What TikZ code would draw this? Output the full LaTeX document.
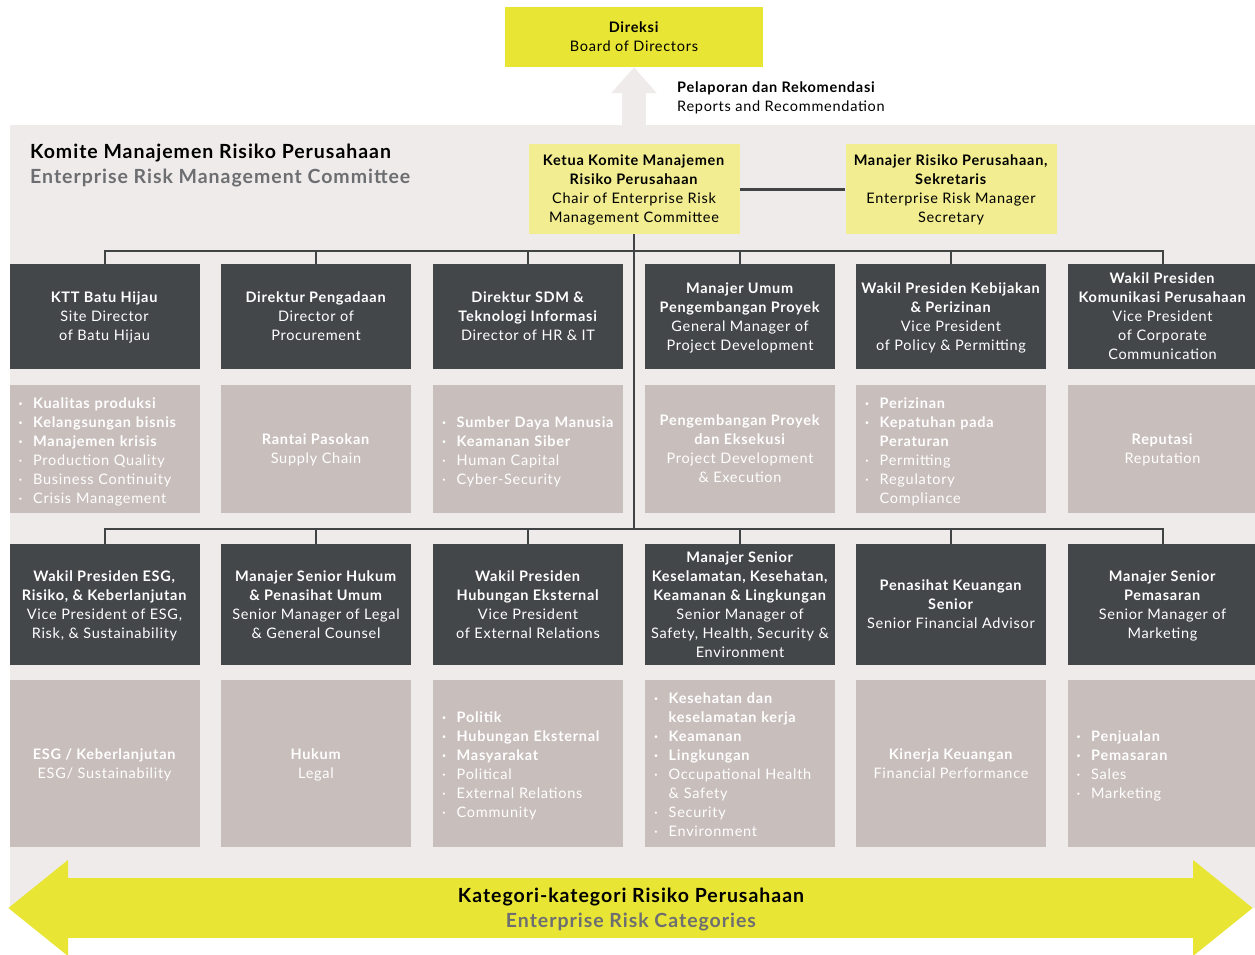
\documentclass[tikz,border=0pt]{standalone}
\usepackage{fontspec}
\setmainfont{Lato}[LetterSpace=5]
\usetikzlibrary{arrows.meta}

\definecolor{brightyellow}{HTML}{E8E535}
\definecolor{paleyellow}{HTML}{F1ED90}
\definecolor{panelgray}{HTML}{EFEBEA}
\definecolor{darkbox}{HTML}{434749}
\definecolor{lightbox}{HTML}{C8BEBB}
\definecolor{subgray}{HTML}{6D6E71}
\definecolor{linegray}{HTML}{414344}

\newcommand{\boxfont}{\fontsize{14.5}{19}\selectfont}
\newcommand{\bigfont}{\fontsize{19.5}{25}\selectfont\bfseries}
\newcommand{\boldpt}[1]{\textbf{·}&\textbf{#1}\\}
\newcommand{\plainpt}[1]{·&#1\\}
\newcommand{\contpt}[1]{&#1\\}
\newenvironment{points}{\begin{tabular}[b]{@{}l@{\hspace{10pt}}l@{}}}{\end{tabular}}

\tikzset{
  role/.style={fill=darkbox, text=white, minimum width=190pt, inner sep=0pt, text depth=0pt, align=center, font=\boxfont},
  toprole/.style={role, minimum height=105pt},
  lowrole/.style={role, minimum height=121pt},
  risk/.style={fill=lightbox, text=white, minimum width=190pt, inner sep=0pt, text depth=0pt, align=center, font=\boxfont},
  toprisk/.style={risk, minimum height=128pt},
  lowrisk/.style={risk, minimum height=167pt},
  risklist/.style={text width=172pt, inner xsep=9pt, align=left},
  chairbox/.style={fill=paleyellow, minimum width=211pt, minimum height=90pt, inner sep=0pt, text depth=0pt, align=center, font=\boxfont},
  conn/.style={draw=linegray, line width=2pt}
}

\begin{document}
\begin{tikzpicture}[x=1pt,y=-1pt]
\useasboundingbox (0,0) rectangle (1255,954);

% committee panel
\fill[panelgray] (10,125) rectangle (1255,908);

\node[fill=brightyellow, minimum width=258pt, minimum height=60pt, inner sep=0pt, text depth=0pt, align=center, font=\boxfont] (board) at (634,37) {\textbf{Direksi}\\Board of Directors};
\coordinate (upstart) at (634,126);
\draw[panelgray, line width=24pt, -{Triangle[width=44pt,length=26pt]}] (upstart) -- (board.south);
\node[anchor=west, align=left, font=\boxfont, inner sep=0pt] (report) at (677,97.5) {\textbf{Pelaporan dan Rekomendasi}\\Reports and Recommendation};

\node[anchor=west, align=left, font=\bigfont, inner sep=0pt] (title) at (30,165.5) {Komite Manajemen Risiko Perusahaan\\\textcolor{subgray}{Enterprise Risk Management Committee}};

\node[chairbox] (chair) at (634,189) {\textbf{Ketua Komite Manajemen}\\\textbf{Risiko Perusahaan}\\Chair of Enterprise Risk\\Management Committee};
\node[chairbox] (sec) at (951,189) {\textbf{Manajer Risiko Perusahaan,}\\\textbf{Sekretaris}\\Enterprise Risk Manager\\Secretary};
\draw[conn, line width=3pt] (chair) -- (sec);

% first row
\node[toprole] (r1) at (104.5,316.5) {\textbf{KTT Batu Hijau}\\Site Director\\of Batu Hijau};
\node[toprole] (r2) at (316,316.5) {\textbf{Direktur Pengadaan}\\Director of\\Procurement};
\node[toprole] (r3) at (528,316.5) {\textbf{Direktur SDM \&}\\\textbf{Teknologi Informasi}\\Director of HR \& IT};
\node[toprole] (r4) at (740,316.5) {\textbf{Manajer Umum}\\\textbf{Pengembangan Proyek}\\General Manager of\\Project Development};
\node[toprole] (r5) at (951,316.5) {\textbf{Wakil Presiden Kebijakan}\\\textbf{\& Perizinan}\\Vice President\\of Policy \& Permitting};
\node[toprole] (r6) at (1162.5,316.5) {\textbf{Wakil Presiden}\\\textbf{Komunikasi Perusahaan}\\Vice President\\of Corporate\\Communication};

\node[toprisk, risklist] (k1) at (104.5,449) {\begin{points}\boldpt{Kualitas produksi}\boldpt{Kelangsungan bisnis}\boldpt{Manajemen krisis}\plainpt{Production Quality}\plainpt{Business Continuity}\plainpt{Crisis Management}\end{points}};
\node[toprisk] (k2) at (316,449) {\textbf{Rantai Pasokan}\\Supply Chain};
\node[toprisk, risklist] (k3) at (528,449) {\begin{points}\boldpt{Sumber Daya Manusia}\boldpt{Keamanan Siber}\plainpt{Human Capital}\plainpt{Cyber-Security}\end{points}};
\node[toprisk] (k4) at (740,449) {\textbf{Pengembangan Proyek}\\\textbf{dan Eksekusi}\\Project Development\\\& Execution};
\node[toprisk, risklist] (k5) at (951,449) {\begin{points}\boldpt{Perizinan}\boldpt{Kepatuhan pada}\contpt{\textbf{Peraturan}}\plainpt{Permitting}\plainpt{Regulatory}\contpt{Compliance}\end{points}};
\node[toprisk] (k6) at (1162.5,449) {\textbf{Reputasi}\\Reputation};

% second row
\node[lowrole] (s1) at (104.5,604.5) {\textbf{Wakil Presiden ESG,}\\\textbf{Risiko, \& Keberlanjutan}\\Vice President of ESG,\\Risk, \& Sustainability};
\node[lowrole] (s2) at (316,604.5) {\textbf{Manajer Senior Hukum}\\\textbf{\& Penasihat Umum}\\Senior Manager of Legal\\\& General Counsel};
\node[lowrole] (s3) at (528,604.5) {\textbf{Wakil Presiden}\\\textbf{Hubungan Eksternal}\\Vice President\\of External Relations};
\node[lowrole] (s4) at (740,604.5) {\textbf{Manajer Senior}\\\textbf{Keselamatan, Kesehatan,}\\\textbf{Keamanan \& Lingkungan}\\Senior Manager of\\Safety, Health, Security \&\\Environment};
\node[lowrole] (s5) at (951,604.5) {\textbf{Penasihat Keuangan}\\\textbf{Senior}\\Senior Financial Advisor};
\node[lowrole] (s6) at (1162.5,604.5) {\textbf{Manajer Senior}\\\textbf{Pemasaran}\\Senior Manager of\\Marketing};

\node[lowrisk] (m1) at (104.5,763.5) {\textbf{ESG / Keberlanjutan}\\ESG/ Sustainability};
\node[lowrisk] (m2) at (316,763.5) {\textbf{Hukum}\\Legal};
\node[lowrisk, risklist] (m3) at (528,763.5) {\begin{points}\boldpt{Politik}\boldpt{Hubungan Eksternal}\boldpt{Masyarakat}\plainpt{Political}\plainpt{External Relations}\plainpt{Community}\end{points}};
\node[lowrisk, risklist] (m4) at (740,763.5) {\begin{points}\boldpt{Kesehatan dan}\contpt{\textbf{keselamatan kerja}}\boldpt{Keamanan}\boldpt{Lingkungan}\plainpt{Occupational Health}\contpt{\& Safety}\plainpt{Security}\plainpt{Environment}\end{points}};
\node[lowrisk] (m5) at (951,763.5) {\textbf{Kinerja Keuangan}\\Financial Performance};
\node[lowrisk, risklist] (m6) at (1162.5,763.5) {\begin{points}\boldpt{Penjualan}\boldpt{Pemasaran}\plainpt{Sales}\plainpt{Marketing}\end{points}};

% tree lines
\coordinate (bus1) at (634,251);
\coordinate (bus2) at (634,529);
\draw[conn] (chair.south) -- (bus2);
\foreach \i in {1,...,6} {
  \draw[conn] (r\i.north) |- (bus1);
  \draw[conn] (s\i.north) |- (bus2);
}

% categories arrow
\coordinate (catl) at (8,908);
\coordinate (catr) at (1253,908);
\draw[brightyellow, line width=60pt, {Triangle[width=92pt,length=60pt]}-{Triangle[width=92pt,length=60pt]}] (catl) -- (catr);
\node[align=center, font=\bigfont, inner sep=0pt] (cat) at (631,909.5) {Kategori-kategori Risiko Perusahaan\\\textcolor{subgray}{Enterprise Risk Categories}};
\end{tikzpicture}
\end{document}
